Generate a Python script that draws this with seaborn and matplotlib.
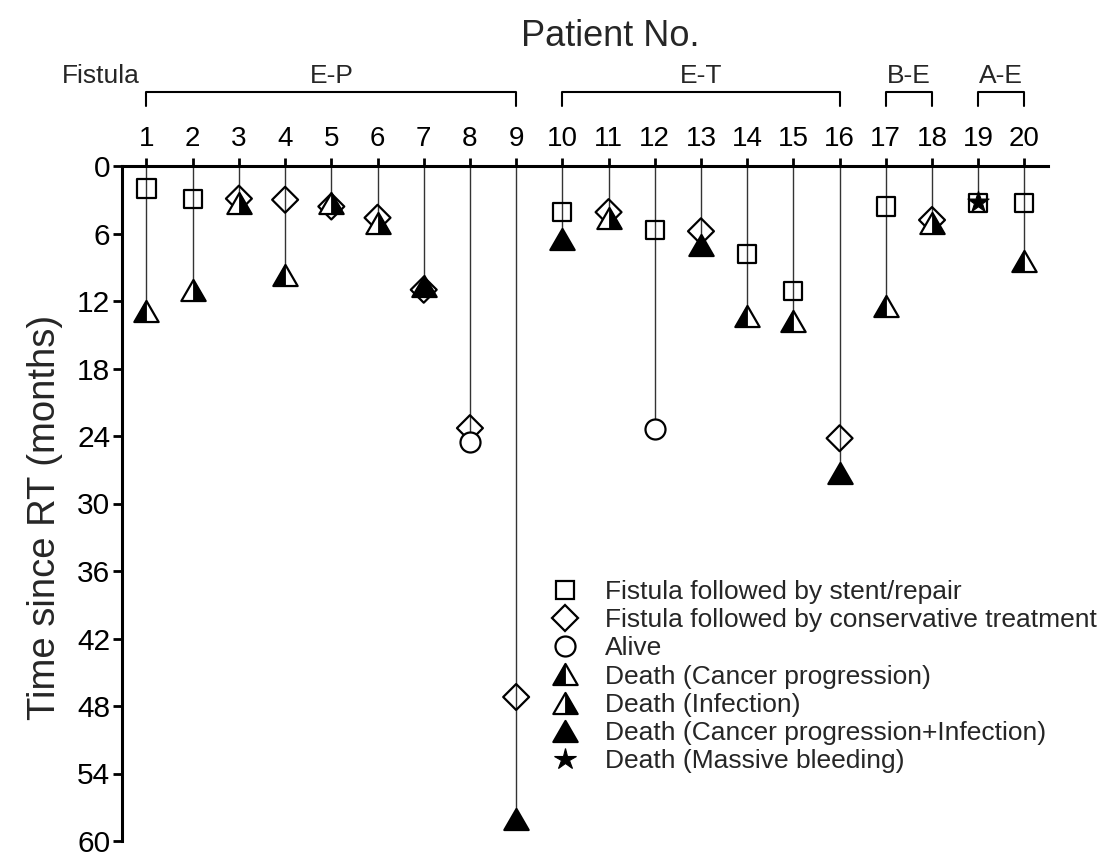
import numpy as np
import pandas as pd
import matplotlib
matplotlib.use("Agg")
import matplotlib.pyplot as plt
import seaborn as sns
from matplotlib.path import Path
from matplotlib.lines import Line2D
from matplotlib.legend_handler import HandlerTuple

# ---------------- data ----------------
patients = list(range(1, 21))

stent_pat = [1, 2, 10, 12, 14, 15, 17, 19, 20]
stent_time = [2.0, 2.9, 4.1, 5.7, 7.8, 11.1, 3.6, 3.3, 3.3]

cons_pat = [3, 4, 5, 6, 7, 8, 9, 11, 13, 16, 18]
cons_time = [2.9, 3.0, 3.6, 4.6, 11.0, 23.3, 47.2, 4.1, 5.8, 24.2, 4.8]

alive_pat = [8, 12]
alive_time = [24.5, 23.4]

cancer_pat = [1, 4, 14, 15, 17, 20]
cancer_time = [12.9, 9.7, 13.3, 13.8, 12.4, 8.4]

infect_pat = [2, 3, 5, 6, 11, 18]
infect_time = [11.0, 3.3, 3.3, 5.1, 4.6, 5.1]

both_pat = [7, 9, 10, 13, 16]
both_time = [10.7, 58.0, 6.5, 7.0, 27.3]

bleed_pat = [19]
bleed_time = [3.2]

group_names = ["E-P", "E-T", "B-E", "A-E"]
group_start = [1, 10, 17, 19]
group_end = [9, 16, 18, 20]

y_ticks = [0, 6, 12, 18, 24, 30, 36, 42, 48, 54, 60]

legend_labels = [
    "Fistula followed by stent/repair",
    "Fistula followed by conservative treatment",
    "Alive",
    "Death (Cancer progression)",
    "Death (Infection)",
    "Death (Cancer progression+Infection)",
    "Death (Massive bleeding)",
]

# ---------------- style ----------------
sns.set_theme(style="ticks")
plt.rcParams["font.family"] = ["Liberation Sans", "DejaVu Sans"]

W, H = 1118, 859
fig = plt.figure(figsize=(W / 100, H / 100), dpi=100)
ax_l, ax_r, ax_t, ax_b = 122, 1048, 166, 841
ax = fig.add_axes([ax_l / W, 1 - ax_b / H, (ax_r - ax_l) / W, (ax_b - ax_t) / H])

# custom triangle markers (equilateral, and halves)
C = [Path.MOVETO, Path.LINETO, Path.LINETO, Path.CLOSEPOLY]
TRI = Path([(-1, -0.866), (1, -0.866), (0, 0.866), (-1, -0.866)], C)
TRI_L = Path([(-1, -0.866), (0, -0.866), (0, 0.866), (-1, -0.866)], C)
TRI_R = Path([(0, -0.866), (1, -0.866), (0, 0.866), (0, -0.866)], C)

# stems
frames = []
for p, t in [(stent_pat, stent_time), (cons_pat, cons_time), (alive_pat, alive_time),
             (cancer_pat, cancer_time), (infect_pat, infect_time),
             (both_pat, both_time), (bleed_pat, bleed_time)]:
    frames.append(pd.DataFrame({"patient": p, "time": t}))
allpts = pd.concat(frames)
stem = allpts.groupby("patient")["time"].max()
ax.vlines(stem.index, 0, stem.values, color="#333333", lw=1.0, zorder=1)

EW = 1.6
S_SQ, S_DI, S_CI, S_TR, S_ST = 13.0, 13.2, 14.4, 17.5, 16.0


def pts(p, t):
    return pd.DataFrame({"patient": p, "time": t})


d = pts(stent_pat, stent_time)
sns.scatterplot(data=d, x="patient", y="time", marker="s", s=S_SQ ** 2,
                facecolor="none", edgecolor="black", linewidth=EW, zorder=3, ax=ax)
d = pts(cons_pat, cons_time)
sns.scatterplot(data=d, x="patient", y="time", marker="D", s=S_DI ** 2,
                facecolor="none", edgecolor="black", linewidth=EW, zorder=3, ax=ax)
d = pts(alive_pat, alive_time)
sns.scatterplot(data=d, x="patient", y="time", marker="o", s=S_CI ** 2,
                facecolor="white", edgecolor="black", linewidth=EW, zorder=4, ax=ax)

for p, t, half in [(cancer_pat, cancer_time, TRI_L), (infect_pat, infect_time, TRI_R)]:
    d = pts(p, t)
    sns.scatterplot(data=d, x="patient", y="time", marker=TRI, s=S_TR ** 2,
                    facecolor="white", edgecolor="black", linewidth=EW, zorder=5, ax=ax)
    sns.scatterplot(data=d, x="patient", y="time", marker=half, s=S_TR ** 2,
                    facecolor="black", edgecolor="black", linewidth=0.6, zorder=6, ax=ax)
d = pts(both_pat, both_time)
sns.scatterplot(data=d, x="patient", y="time", marker=TRI, s=S_TR ** 2,
                facecolor="black", edgecolor="black", linewidth=EW, zorder=5, ax=ax)
d = pts(bleed_pat, bleed_time)
sns.scatterplot(data=d, x="patient", y="time", marker="*", s=S_ST ** 2,
                facecolor="black", edgecolor="black", linewidth=0.8, zorder=7, ax=ax)

# axes
ax.set_xlim(0.47, 20.51)
ax.set_ylim(60, 0)
ax.set_xticks(patients)
ax.set_xticklabels([str(p) for p in patients])
ax.set_yticks(y_ticks)
ax.set_yticklabels([str(v) for v in y_ticks])
ax.xaxis.tick_top()
ax.tick_params(axis="x", top=True, bottom=False, labeltop=True, labelbottom=False,
               direction="out", length=6, width=2, labelsize=20, pad=4, colors="black")
ax.tick_params(axis="y", left=True, direction="out", length=6.5, width=2,
               labelsize=21.5, pad=2, colors="black")
for s in ["right", "bottom"]:
    ax.spines[s].set_visible(False)
for s in ["left", "top"]:
    ax.spines[s].set_linewidth(2.2)
    ax.spines[s].set_color("black")
ax.set_xlabel("")
ax.set_ylabel("Time since RT (months)", fontsize=27.5)
ax.yaxis.set_label_coords(-0.064, 0.48)

# group brackets
tr = ax.get_xaxis_transform()
yb_top = (ax_b - 92) / (ax_b - ax_t)
yb_bot = (ax_b - 106) / (ax_b - ax_t)
ylab = (ax_b - 76) / (ax_b - ax_t)
for name, s0, e0 in zip(group_names, group_start, group_end):
    ax.plot([s0, s0, e0, e0], [yb_bot, yb_top, yb_top, yb_bot], transform=tr,
            clip_on=False, color="black", lw=1.5)
    ax.text((s0 + e0) / 2, ylab, name, transform=tr, ha="center", va="center", fontsize=19)

fig.text(62 / W, 1 - 76 / H, "Fistula", ha="left", va="center", fontsize=19)
fig.text(610 / W, 1 - 36 / H, "Patient No.", ha="center", va="center", fontsize=26)

# legend
h_sq = Line2D([], [], ls="none", marker="s", ms=S_SQ, mfc="none", mec="black", mew=EW)
h_di = Line2D([], [], ls="none", marker="D", ms=S_DI, mfc="none", mec="black", mew=EW)
h_ci = Line2D([], [], ls="none", marker="o", ms=S_CI, mfc="white", mec="black", mew=EW)
h_tw = Line2D([], [], ls="none", marker=TRI, ms=S_TR, mfc="white", mec="black", mew=EW)
h_l = Line2D([], [], ls="none", marker=TRI_L, ms=S_TR, mfc="black", mec="black", mew=0.6)
h_r = Line2D([], [], ls="none", marker=TRI_R, ms=S_TR, mfc="black", mec="black", mew=0.6)
h_tb = Line2D([], [], ls="none", marker=TRI, ms=S_TR, mfc="black", mec="black", mew=EW)
h_st = Line2D([], [], ls="none", marker="*", ms=S_ST, mfc="black", mec="black", mew=0.8)
handles = [h_sq, h_di, h_ci, (h_tw, h_l), (h_tw, h_r), h_tb, h_st]
fig.legend(handles, legend_labels, loc="upper left",
           bbox_to_anchor=(552 / W, 1 - 580 / H), frameon=False, fontsize=19,
           borderpad=0, borderaxespad=0, handlelength=1.0, handletextpad=1.0,
           labelspacing=0.16,
           handler_map={tuple: HandlerTuple(ndivide=1, pad=0.0)})

fig.savefig("out.png", dpi=100)
